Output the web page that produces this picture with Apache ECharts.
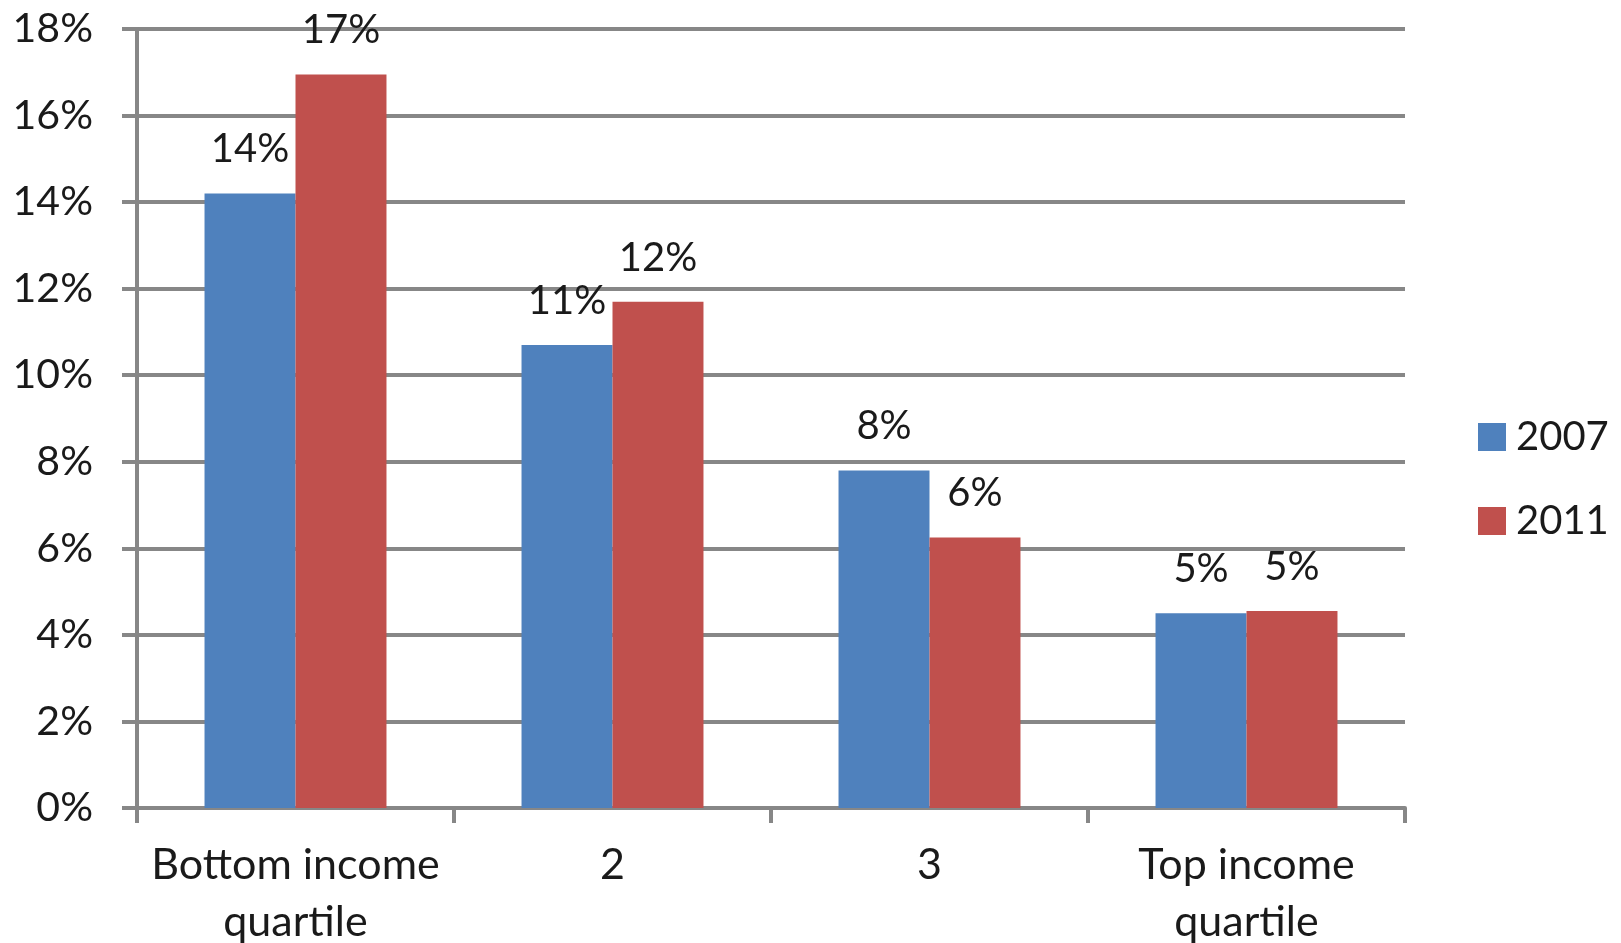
<!DOCTYPE html>
<html>
<head>
<meta charset="utf-8">
<script src="https://cdn.jsdelivr.net/npm/echarts@6/dist/echarts.min.js"></script>
<style>
html,body{margin:0;padding:0;background:#fff;}
#chart{width:1621px;height:943px;}
</style>
</head>
<body>
<div id="chart"></div>
<script>
const categories = ['Bottom income\nquartile', '2', '3', 'Top income\nquartile'];
const seriesNames = ['2007', '2011'];
const values2007 = [14.2, 10.7, 7.8, 4.5];
const values2011 = [16.95, 11.7, 6.25, 4.55];
const yTicks = { min: 0, max: 18, interval: 2 };

const FONT = 'Lato';
const AXIS_GRAY = '#878787';
const chart = echarts.init(document.getElementById('chart'));

function barLabel() {
  return {
    show: true,
    position: 'top',
    distance: 24,
    fontFamily: FONT,
    fontSize: 40,
    lineHeight: 40,
    color: '#1a1a1a',
    formatter: p => Math.round(p.value) + '%'
  };
}

chart.setOption({
  animation: false,
  backgroundColor: '#fff',
  grid: { left: 137, right: 216, top: 29, bottom: 135, containLabel: false, outerBoundsMode: 'none' },
  legend: {
    orient: 'vertical',
    left: 1478,
    top: 417,
    padding: 0,
    itemWidth: 28,
    itemHeight: 28,
    itemGap: 44,
    icon: 'rect',
    textStyle: { fontFamily: FONT, fontSize: 40, color: '#1a1a1a', padding: [0, 0, 0, 5] },
    data: seriesNames
  },
  xAxis: {
    type: 'category',
    data: categories,
    axisLine: { lineStyle: { color: AXIS_GRAY, width: 4 } },
    axisTick: { show: true, interval: 0, length: 15, lineStyle: { color: AXIS_GRAY, width: 4 } },
    axisLabel: { interval: 0, fontFamily: FONT, fontSize: 43, lineHeight: 57, color: '#1a1a1a', margin: 29 },
    splitLine: { show: false }
  },
  yAxis: {
    type: 'value',
    min: yTicks.min,
    max: yTicks.max,
    interval: yTicks.interval,
    axisLine: { show: true, lineStyle: { color: AXIS_GRAY, width: 4 } },
    axisTick: { show: true, length: 15, lineStyle: { color: AXIS_GRAY, width: 4 } },
    axisLabel: { fontFamily: FONT, fontSize: 41, color: '#1a1a1a', margin: 44, formatter: '{value}%' },
    splitLine: { show: true, lineStyle: { color: AXIS_GRAY, width: 4 } }
  },
  series: [
    {
      name: seriesNames[0], type: 'bar', data: values2007,
      itemStyle: { color: '#4F81BD' },
      barGap: '0%', barCategoryGap: '42.6%',
      label: barLabel()
    },
    {
      name: seriesNames[1], type: 'bar', data: values2011,
      itemStyle: { color: '#C0504D' },
      barGap: '0%', barCategoryGap: '42.6%',
      label: barLabel()
    }
  ]
});
</script>
</body>
</html>
